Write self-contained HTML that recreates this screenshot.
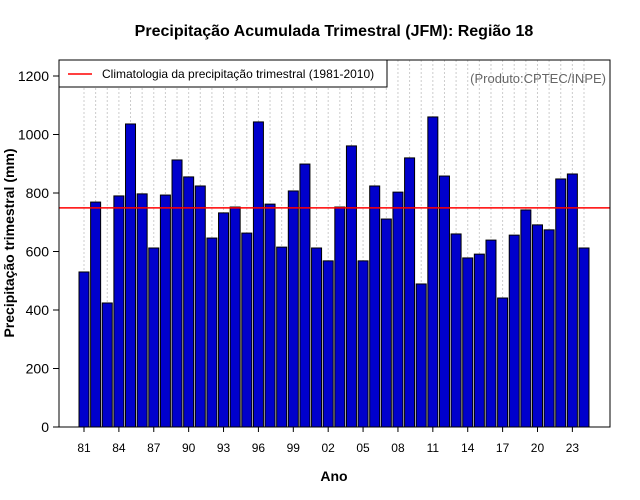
<!DOCTYPE html>
<html><head><meta charset="utf-8"><style>body{margin:0;background:#fff}svg{display:block;font-family:"Liberation Sans",sans-serif}</style></head>
<body>
<svg id="c" width="640" height="500"></svg>
<script>
const years=[1981,1982,1983,1984,1985,1986,1987,1988,1989,1990,1991,1992,1993,1994,1995,1996,1997,1998,1999,2000,2001,2002,2003,2004,2005,2006,2007,2008,2009,2010,2011,2012,2013,2014,2015,2016,2017,2018,2019,2020,2021,2022,2023,2024];
const precip=[530,769,424,790,1036,797,612,793,913,855,824,646,732,752,663,1043,762,615,807,899,612,568,752,961,568,824,711,803,920,489,1060,858,660,578,591,639,441,656,742,691,674,848,865,612];
const climatology=[749];
const yTicks=[0,200,400,600,800,1000,1200];
const xTickYears=[1981,1984,1987,1990,1993,1996,1999,2002,2005,2008,2011,2014,2017,2020,2023];
const NS="http://www.w3.org/2000/svg",svg=document.getElementById('c');
function mk(t,a,p){const e=document.createElementNS(NS,t);for(const k in a)e.setAttribute(k,a[k]);(p||svg).appendChild(e);return e;}
const L=59,R=610,T=60,B=427;
const y=v=>B-v*(B-76)/1200;
const x=yr=>84+(yr-1981)*(500/43);
let t=mk('text',{x:334,y:36,'text-anchor':'middle','font-size':16,'font-weight':'bold'});t.textContent='Precipitação Acumulada Trimestral (JFM): Região 18';

years.forEach(yr=>{const g=mk('line',{x1:x(yr),x2:x(yr),y1:T,y2:B,stroke:'#ccc','stroke-dasharray':'2,2'});
});
years.forEach((yr,i)=>{const r=mk('rect',{x:x(yr)-5,y:y(precip[i]),width:10,height:B-y(precip[i]),fill:'#0000cc',stroke:'#000','stroke-width':1});
});
const cl=mk('line',{x1:L,x2:R,y1:y(climatology[0]),y2:y(climatology[0]),stroke:'#ff0000','stroke-width':1.5});

const fr=mk('rect',{x:L,y:T,width:R-L,height:B-T,fill:'none',stroke:'#000'});

yTicks.forEach(v=>{mk('line',{x1:L-6,x2:L,y1:y(v),y2:y(v),stroke:'#000'});
const tt=mk('text',{x:L-10,y:y(v)+5,'text-anchor':'end','font-size':14});tt.textContent=v;
});
xTickYears.forEach(yr=>{mk('line',{x1:x(yr),x2:x(yr),y1:B,y2:B+5,stroke:'#000'});
const tt=mk('text',{x:x(yr),y:B+25,'text-anchor':'middle','font-size':12});tt.textContent=String(yr).slice(2);
});
t=mk('text',{x:334,y:481,'text-anchor':'middle','font-size':14,'font-weight':'bold'});t.textContent='Ano';

t=mk('text',{x:14,y:243,'text-anchor':'middle','font-size':14,'font-weight':'bold',transform:'rotate(-90 14 243)'});t.textContent='Precipitação trimestral (mm)';

const lg=mk('g',{});
mk('rect',{x:L,y:T,width:328,height:27,fill:'#fff',stroke:'#000'},lg);
mk('line',{x1:68,x2:92,y1:74,y2:74,stroke:'#ff0000','stroke-width':1.5},lg);
t=mk('text',{x:102,y:78,'font-size':12},lg);t.textContent='Climatologia da precipitação trimestral (1981-2010)';
t=mk('text',{x:606,y:83,'text-anchor':'end','font-size':13,fill:'#666'});t.textContent='(Produto:CPTEC/INPE)';

</script>
</body></html>
